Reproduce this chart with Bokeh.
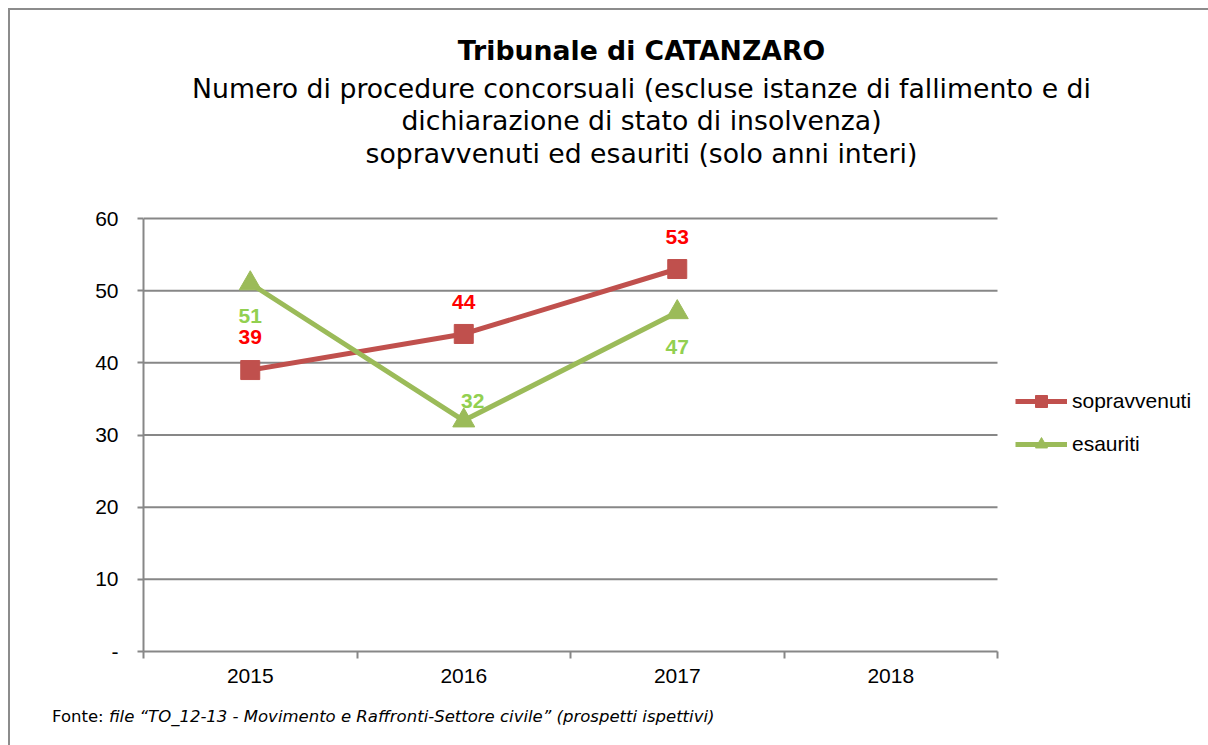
from bokeh.plotting import figure
from bokeh.models import (Range1d, FixedTicker, ColumnDataSource, Legend, LegendItem, Label, Div)
from bokeh.layouts import column
from bokeh.core.properties import value
from bokeh.embed import file_html
from bokeh.resources import INLINE

# ---- data ----
years = ["2015", "2016", "2017", "2018"]
sopravvenuti = [39, 44, 53]
esauriti = [51, 32, 47]
y_ticks = [0, 10, 20, 30, 40, 50, 60]
y_max = 60
sopr_label_offsets = [-33, -32, -32]   # screen px (negative = up)
esau_label_offsets = [33, -20, 35]
esau_label_xoff = [0, 9, 0]

title_main = "Tribunale di CATANZARO"
subtitle_lines = [
    "Numero di procedure concorsuali (escluse istanze di fallimento e di",
    "dichiarazione di stato di insolvenza)",
    "sopravvenuti ed esauriti (solo anni interi)",
]
source_prefix = "Fonte:"
source_text = "file \u201cTO_12-13 - Movimento e Raffronti-Settore civile\u201d (prospetti ispettivi)"

# ---- layout constants (pixels) ----
W = 1198
FIG_H = 690
ML = 133            # left border
PLOT_H = 433        # height of the 0..60 value band
CAT_PX = 213.5      # width of one category
MB = 49             # below the frame (x axis)
FRAME_W = W - ML
FRAME_H = FIG_H - MB
PAGE_X0, PAGE_Y0 = 10, 10
FRAME_LEFT_PAGE = PAGE_X0 + ML
FRAME_BOTTOM_PAGE = PAGE_Y0 + FRAME_H

GRID = "#878787"
RED = "#C0504D"
GREEN = "#9BBB59"
FONT = "Liberation Sans"
TFONT = "DejaVu Sans"

p = figure(width=W, height=FIG_H, output_backend="svg", toolbar_location=None,
           x_range=Range1d(0, FRAME_W / CAT_PX),
           y_range=Range1d(0, y_max * FRAME_H / PLOT_H),
           min_border_left=ML, min_border_right=0, min_border_top=0,
           min_border_bottom=MB, outline_line_color=None)

xs = [i + 0.5 for i in range(len(years))]
label_map = {x: y for x, y in zip(xs, years)}
ncat = len(years)

# x axis
p.xaxis.bounds = (0, ncat)
p.xaxis.ticker = FixedTicker(ticks=xs, minor_ticks=list(range(ncat + 1)))
p.xaxis.major_label_overrides = label_map
p.xaxis.major_tick_in = 0
p.xaxis.major_tick_out = 0
p.xaxis.minor_tick_in = 0
p.xaxis.minor_tick_out = 7
p.xaxis.minor_tick_line_color = GRID
p.xaxis.minor_tick_line_width = 2
p.xaxis.axis_line_color = GRID
p.xaxis.axis_line_width = 2
p.xaxis.major_label_text_font = FONT
p.xaxis.major_label_text_font_size = "21px"
p.xaxis.major_label_text_color = "#000000"
p.xaxis.major_label_standoff = 10

# y axis
p.yaxis.bounds = (0, y_max)
p.yaxis.ticker = FixedTicker(ticks=y_ticks)
p.yaxis.major_label_overrides = {0: "-"}
p.yaxis.major_tick_in = 0
p.yaxis.major_tick_out = 6
p.yaxis.minor_tick_out = 0
p.yaxis.minor_tick_in = 0
p.yaxis.major_tick_line_color = GRID
p.yaxis.major_tick_line_width = 2
p.yaxis.axis_line_color = GRID
p.yaxis.axis_line_width = 2
p.yaxis.major_label_text_font = FONT
p.yaxis.major_label_text_font_size = "21px"
p.yaxis.major_label_text_color = "#000000"
p.yaxis.major_label_standoff = 19

p.grid.visible = False
# horizontal gridlines limited to the category area
gl = y_ticks[1:]
p.segment(x0=[0] * len(gl), x1=[ncat] * len(gl), y0=gl, y1=gl,
          line_color=GRID, line_width=2)

n = len(sopravvenuti)
src_s = ColumnDataSource(dict(x=xs[:n], y=sopravvenuti, t=[str(v) for v in sopravvenuti],
                              yo=sopr_label_offsets))
src_e = ColumnDataSource(dict(x=xs[:n], y=esauriti, t=[str(v) for v in esauriti],
                              yo=esau_label_offsets, xo=esau_label_xoff))

ls = p.line("x", "y", source=src_s, line_color=RED, line_width=5)
ms = p.scatter("x", "y", source=src_s, marker="square", size=19, fill_color=RED, line_color=RED)
le = p.line("x", "y", source=src_e, line_color=GREEN, line_width=5)
me = p.scatter("x", "y", source=src_e, marker="triangle", size=22, fill_color=GREEN, line_color=GREEN)

p.text("x", "y", text="t", source=src_s, y_offset="yo", text_align="center",
       text_baseline="middle", text_color="#FF0000", text_font=value(FONT),
       text_font_style="bold", text_font_size="21px")
p.text("x", "y", text="t", source=src_e, y_offset="yo", x_offset="xo", text_align="center",
       text_baseline="middle", text_color="#92D050", text_font=value(FONT),
       text_font_style="bold", text_font_size="21px")

legend = Legend(items=[LegendItem(label="sopravvenuti", renderers=[ls, ms]),
                       LegendItem(label="esauriti", renderers=[le, me])],
                location=(1015 - FRAME_LEFT_PAGE, FRAME_BOTTOM_PAGE - 459),
                orientation="vertical",
                glyph_width=52, glyph_height=30, label_height=30, spacing=13,
                padding=0, margin=0, border_line_color=None, background_fill_alpha=0,
                label_text_font=FONT, label_text_font_size="21px",
                label_text_color="#000000", label_standoff=5)
p.add_layout(legend, "center")

# titles (screen units relative to the frame, measured from its bottom)
cx = 641 - FRAME_LEFT_PAGE
p.add_layout(Label(x=cx, y=FRAME_BOTTOM_PAGE - 50, x_units="screen", y_units="screen",
                   text=title_main, text_font=TFONT, text_font_style="bold",
                   text_font_size="26.7px", text_align="center", text_baseline="middle",
                   text_color="#000000"))
for line, py in zip(subtitle_lines, [88, 120, 153]):
    p.add_layout(Label(x=cx, y=FRAME_BOTTOM_PAGE - py, x_units="screen", y_units="screen",
                       text=line, text_font=TFONT, text_font_size="26.7px",
                       text_align="center", text_baseline="middle", text_color="#000000"))

footer = Div(
    text=(f'<span style="font-style:normal">{source_prefix} </span>'
          f'<span style="font-style:italic">{source_text}</span>'),
    width=W, height=45,
    styles={"font-family": "'DejaVu Sans'", "font-size": "16.5px", "color": "#000000",
            "padding-left": "37px", "padding-top": "2px", "line-height": "20px",
            "box-sizing": "border-box", "white-space": "nowrap"})

layout = column(p, footer, spacing=0,
                styles={"margin-left": "8px", "margin-top": "8px",
                        "border-left": "2px solid #8c8c8c", "border-top": "2px solid #8c8c8c"})

open("out.html", "w").write(file_html(layout, INLINE))
